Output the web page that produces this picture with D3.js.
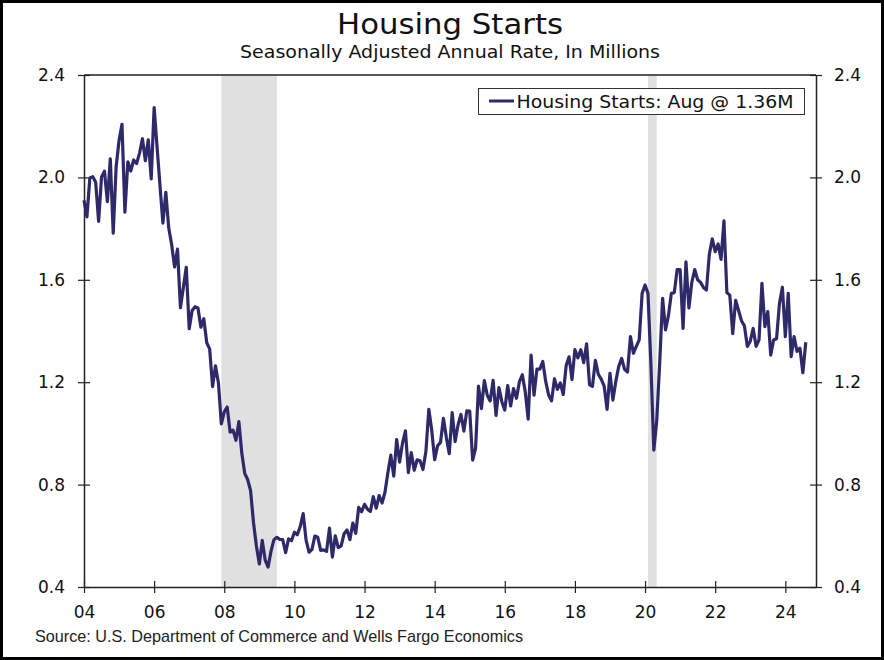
<!DOCTYPE html>
<html>
<head>
<meta charset="utf-8">
<script src="https://cdn.jsdelivr.net/npm/d3@7"></script>
<style>
  html, body { margin: 0; padding: 0; background: #fff; }
  svg { display: block; }
</style>
</head>
<body>
<svg id="chart" width="884" height="660"></svg>
<script>
// ---------------- DATA ----------------
const startYear = 2004; // monthly series, starting January
const starts2004 = [1.911, 1.846, 1.998, 2.003, 1.981, 1.828, 2.002, 2.024, 1.905, 2.072, 1.782, 2.042];
const starts2005 = [2.144, 2.207, 1.864, 2.061, 2.025, 2.068, 2.054, 2.095, 2.151, 2.065, 2.147, 1.994];
const starts2006 = [2.273, 2.119, 1.969, 1.821, 1.942, 1.802, 1.737, 1.650, 1.720, 1.491, 1.570, 1.649];
const starts2007 = [1.409, 1.480, 1.495, 1.490, 1.415, 1.448, 1.354, 1.330, 1.183, 1.264, 1.197, 1.037];
const starts2008 = [1.084, 1.103, 1.005, 1.013, 0.973, 1.046, 0.923, 0.844, 0.820, 0.777, 0.652, 0.560];
const starts2009 = [0.490, 0.582, 0.505, 0.478, 0.540, 0.585, 0.594, 0.586, 0.585, 0.534, 0.588, 0.581];
const starts2010 = [0.614, 0.604, 0.636, 0.687, 0.583, 0.536, 0.546, 0.599, 0.594, 0.543, 0.545, 0.539];
const starts2011 = [0.630, 0.517, 0.600, 0.554, 0.561, 0.608, 0.623, 0.585, 0.650, 0.610, 0.711, 0.694];
const starts2012 = [0.723, 0.704, 0.695, 0.753, 0.708, 0.757, 0.728, 0.770, 0.847, 0.915, 0.833, 0.976];
const starts2013 = [0.888, 0.962, 1.010, 0.847, 0.925, 0.856, 0.897, 0.893, 0.859, 0.929, 1.094, 1.012];
const starts2014 = [0.897, 0.952, 0.965, 1.059, 0.984, 0.921, 1.081, 0.968, 1.033, 1.074, 1.009, 1.088];
const starts2015 = [1.087, 0.896, 0.942, 1.185, 1.097, 1.206, 1.149, 1.127, 1.207, 1.070, 1.179, 1.124];
const starts2016 = [1.091, 1.187, 1.107, 1.175, 1.137, 1.202, 1.229, 1.163, 1.056, 1.306, 1.149, 1.251];
const starts2017 = [1.251, 1.281, 1.203, 1.150, 1.127, 1.213, 1.172, 1.197, 1.152, 1.265, 1.299, 1.210];
const starts2018 = [1.327, 1.295, 1.327, 1.276, 1.350, 1.190, 1.184, 1.285, 1.231, 1.212, 1.185, 1.094];
const starts2019 = [1.235, 1.130, 1.204, 1.262, 1.293, 1.250, 1.240, 1.378, 1.313, 1.340, 1.365, 1.547];
const starts2020 = [1.580, 1.547, 1.270, 0.935, 1.050, 1.273, 1.528, 1.404, 1.460, 1.547, 1.550, 1.640];
const starts2021 = [1.640, 1.410, 1.670, 1.490, 1.590, 1.640, 1.600, 1.590, 1.570, 1.560, 1.700, 1.760];
const starts2022 = [1.710, 1.740, 1.680, 1.830, 1.550, 1.540, 1.390, 1.520, 1.480, 1.440, 1.420, 1.340];
const starts2023 = [1.360, 1.410, 1.340, 1.365, 1.586, 1.417, 1.476, 1.306, 1.365, 1.370, 1.508, 1.571];
const starts2024 = [1.378, 1.547, 1.300, 1.378, 1.320, 1.333, 1.237, 1.356];

const recessions = [[2007.917, 2009.5], [2020.083, 2020.333]];
const xTicks = [2004, 2006, 2008, 2010, 2012, 2014, 2016, 2018, 2020, 2022, 2024];
const xTickLabels = ["04", "06", "08", "10", "12", "14", "16", "18", "20", "22", "24"];
const yTicks = [0.4, 0.8, 1.2, 1.6, 2.0, 2.4];
const yTickLabels = ["0.4", "0.8", "1.2", "1.6", "2.0", "2.4"];

const titleText = "Housing Starts";
const subtitleText = "Seasonally Adjusted Annual Rate, In Millions";
const legendText = "Housing Starts: Aug @ 1.36M";
const sourceText = "Source: U.S. Department of Commerce and Wells Fargo Economics";

const values = [].concat(starts2004, starts2005, starts2006, starts2007, starts2008,
  starts2009, starts2010, starts2011, starts2012, starts2013, starts2014, starts2015,
  starts2016, starts2017, starts2018, starts2019, starts2020, starts2021, starts2022,
  starts2023, starts2024);
const series = values.map((v, i) => ({ t: startYear + i / 12, v: v }));

// ---------------- LAYOUT ----------------
const W = 884, H = 660;
const L = 84, R = 816, T = 75, B = 587;
const font = "'DejaVu Sans', Verdana, sans-serif";
const lineColor = "#2e2a6a";
const axisColor = "#222";

const svg = d3.select("#chart");
svg.append("rect").attr("x", 0).attr("y", 0).attr("width", W).attr("height", H).attr("fill", "#fff");

const x = d3.scaleLinear().domain([2004, 2024.875]).range([L, R]);
const y = d3.scaleLinear().domain([0.4, 2.4]).range([B, T]);

// recession shading
svg.append("g").selectAll("rect").data(recessions).join("rect")
  .attr("x", d => x(d[0])).attr("width", d => x(d[1]) - x(d[0]))
  .attr("y", T).attr("height", B - T)
  .attr("fill", "#e0e0e0");

// frame top
svg.append("line").attr("x1", L).attr("x2", R).attr("y1", T).attr("y2", T)
  .attr("stroke", axisColor).attr("stroke-width", 1.5);

// axes
const xAxis = svg.append("g").attr("transform", `translate(0,${B})`)
  .call(d3.axisBottom(x).tickValues(xTicks).tickFormat((d, i) => xTickLabels[i]).tickSizeOuter(0));
xAxis.selectAll(".tick line").attr("y1", -6).attr("y2", 6);
xAxis.selectAll(".tick text").attr("y", 19);

const yAxisL = svg.append("g").attr("transform", `translate(${L},0)`)
  .call(d3.axisLeft(y).tickValues(yTicks).tickFormat((d, i) => yTickLabels[i]).tickSizeOuter(0));
yAxisL.selectAll(".tick line").attr("x1", -6).attr("x2", 6);
yAxisL.selectAll(".tick text").attr("x", -19);

const yAxisR = svg.append("g").attr("transform", `translate(${R},0)`)
  .call(d3.axisRight(y).tickValues(yTicks).tickFormat((d, i) => yTickLabels[i]).tickSizeOuter(0));
yAxisR.selectAll(".tick line").attr("x1", -6).attr("x2", 6);
yAxisR.selectAll(".tick text").attr("x", 18);

[xAxis, yAxisL, yAxisR].forEach(g => {
  g.select(".domain").attr("stroke", axisColor).attr("stroke-width", 1.5);
  g.selectAll(".tick line").attr("stroke", axisColor).attr("stroke-width", 1.2);
  g.selectAll(".tick text").attr("font-family", font).attr("font-size", 17).attr("fill", "#111");
});

// line
svg.append("path").datum(series)
  .attr("fill", "none").attr("stroke", lineColor).attr("stroke-width", 3.2)
  .attr("stroke-linejoin", "round")
  .attr("d", d3.line().x(d => x(d.t)).y(d => y(d.v)));

// legend
const lg = svg.append("g");
lg.append("rect").attr("x", 478.5).attr("y", 88.5).attr("width", 326).attr("height", 26)
  .attr("fill", "#fff").attr("stroke", "#333").attr("stroke-width", 1);
lg.append("line").attr("x1", 489).attr("x2", 514).attr("y1", 101).attr("y2", 101)
  .attr("stroke", lineColor).attr("stroke-width", 3);
lg.append("text").attr("x", 516.5).attr("y", 108).text(legendText)
  .attr("font-family", font).attr("font-size", 17).attr("fill", "#111")
  .attr("textLength", 277).attr("lengthAdjust", "spacingAndGlyphs");

// titles
svg.append("text").attr("x", 450).attr("y", 34).attr("text-anchor", "middle")
  .attr("font-family", font).attr("font-size", 28).attr("fill", "#111")
  .attr("textLength", 226).attr("lengthAdjust", "spacingAndGlyphs").text(titleText);
svg.append("text").attr("x", 450).attr("y", 58).attr("text-anchor", "middle")
  .attr("font-family", font).attr("font-size", 17).attr("fill", "#111")
  .attr("textLength", 420).attr("lengthAdjust", "spacingAndGlyphs").text(subtitleText);

// source
svg.append("text").attr("x", 35).attr("y", 642)
  .attr("font-family", "'Liberation Sans', Arial, sans-serif").attr("font-size", 17).attr("fill", "#222")
  .attr("textLength", 488).attr("lengthAdjust", "spacingAndGlyphs").text(sourceText);

// outer border
svg.append("rect").attr("x", 1.5).attr("y", 1.5).attr("width", W - 3).attr("height", H - 3)
  .attr("fill", "none").attr("stroke", "#000").attr("stroke-width", 3);
</script>
</body>
</html>
